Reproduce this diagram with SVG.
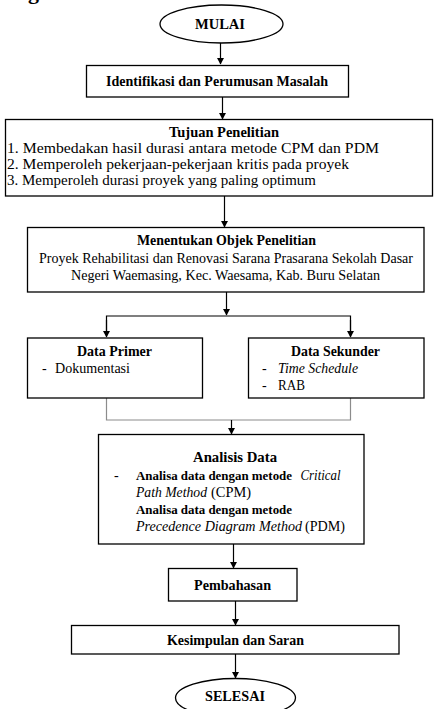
<svg xmlns="http://www.w3.org/2000/svg" width="435" height="709" viewBox="0 0 435 709">
<defs>
<marker id="ah" markerWidth="7" markerHeight="8" refX="6" refY="4" orient="auto" markerUnits="userSpaceOnUse">
<path d="M0,0.5 L6.5,4 L0,7.5 Z" fill="#000"/>
</marker>
<style>
.box{fill:#fff;stroke:#000;stroke-width:1.3}
.t{font-family:"Liberation Serif","Times New Roman",serif;font-size:14px;fill:#000}
.b{font-weight:bold}
.i{font-style:italic}
.m{text-anchor:middle}
.s{font-size:13px}
.c{fill:none;stroke:#000;stroke-width:1.2}
.g{fill:none;stroke:#8c8c8c;stroke-width:1.2}
</style>
</defs>
<rect width="435" height="709" fill="#fff"/>
<text class="t b" x="28" y="-1" style="font-size:22px">g</text>

<g id="connectors">
<line class="c" x1="220.5" y1="43" x2="220.5" y2="64" marker-end="url(#ah)"/>
<line class="c" x1="222.5" y1="97" x2="222.5" y2="119" marker-end="url(#ah)"/>
<line class="c" x1="224.5" y1="196" x2="224.5" y2="227" marker-end="url(#ah)"/>
<line class="c" x1="226.5" y1="292" x2="226.5" y2="315" marker-end="url(#ah)"/>
<polyline class="c" points="106.5,336 106.5,316 350.5,316 350.5,336"/>
<line class="c" x1="106.5" y1="320" x2="106.5" y2="337" marker-end="url(#ah)"/>
<line class="c" x1="350.5" y1="320" x2="350.5" y2="337" marker-end="url(#ah)"/>
<polyline class="g" points="106.5,398 106.5,420 350.5,420 350.5,398"/>
<line class="c" x1="231.5" y1="420" x2="231.5" y2="434" marker-end="url(#ah)"/>
<line class="c" x1="233.5" y1="544" x2="233.5" y2="568" marker-end="url(#ah)"/>
<line class="c" x1="235.5" y1="601" x2="235.5" y2="625" marker-end="url(#ah)"/>
<line class="c" x1="235.5" y1="654" x2="235.5" y2="678" marker-end="url(#ah)"/>
</g>

<g id="mulai">
<ellipse class="box" cx="221.5" cy="24" rx="61.5" ry="19"/>
<text class="t b m" x="220" y="29" textLength="50" lengthAdjust="spacingAndGlyphs">MULAI</text>
</g>

<g id="identifikasi">
<rect class="box" x="86.5" y="65.5" width="262" height="31.5"/>
<text class="t b m" x="217" y="86" textLength="222" lengthAdjust="spacingAndGlyphs">Identifikasi dan Perumusan Masalah</text>
</g>

<g id="tujuan">
<rect class="box" x="5.5" y="119.5" width="427" height="76.5"/>
<text class="t b m" x="224" y="137" textLength="110" lengthAdjust="spacingAndGlyphs">Tujuan Penelitian</text>
<text class="t" x="7" y="153" textLength="372" lengthAdjust="spacingAndGlyphs">1. Membedakan hasil durasi antara metode CPM dan PDM</text>
<text class="t" x="7" y="169" textLength="342" lengthAdjust="spacingAndGlyphs">2. Memperoleh pekerjaan-pekerjaan kritis pada proyek</text>
<text class="t" x="7" y="185" textLength="309" lengthAdjust="spacingAndGlyphs">3. Memperoleh durasi proyek yang paling optimum</text>
</g>

<g id="objek">
<rect class="box" x="27.5" y="227.5" width="396.5" height="64.5"/>
<text class="t b m" x="226.5" y="245" textLength="179" lengthAdjust="spacingAndGlyphs">Menentukan Objek Penelitian</text>
<text class="t" x="39" y="263" textLength="374" lengthAdjust="spacingAndGlyphs">Proyek Rehabilitasi dan Renovasi Sarana Prasarana Sekolah Dasar</text>
<text class="t" x="71" y="280" textLength="309" lengthAdjust="spacingAndGlyphs">Negeri Waemasing, Kec. Waesama, Kab. Buru Selatan</text>
</g>

<g id="primer">
<rect class="box" x="27.5" y="338" width="175" height="60"/>
<text class="t b m" x="114.5" y="356" textLength="75" lengthAdjust="spacingAndGlyphs">Data Primer</text>
<text class="t" x="42" y="373">-</text>
<text class="t" x="55" y="373" textLength="75" lengthAdjust="spacingAndGlyphs">Dokumentasi</text>
</g>

<g id="sekunder">
<rect class="box" x="248.5" y="338" width="175.5" height="60"/>
<text class="t b m" x="335.5" y="356" textLength="89" lengthAdjust="spacingAndGlyphs">Data Sekunder</text>
<text class="t" x="262" y="373">-</text>
<text class="t i" x="278" y="373" textLength="80" lengthAdjust="spacingAndGlyphs">Time Schedule</text>
<text class="t" x="262" y="390">-</text>
<text class="t" x="278" y="390" textLength="27" lengthAdjust="spacingAndGlyphs">RAB</text>
</g>

<g id="analisis">
<rect class="box" x="98.5" y="434.5" width="265.5" height="109.5"/>
<text class="t b m" x="235" y="462" textLength="84" lengthAdjust="spacingAndGlyphs">Analisis Data</text>
<text class="t" x="114" y="480">-</text>
<text class="t b s" x="136" y="480" textLength="156" lengthAdjust="spacingAndGlyphs">Analisa data dengan metode</text>
<text class="t i" x="300.5" y="480" textLength="40" lengthAdjust="spacingAndGlyphs">Critical</text>
<text class="t i" x="136" y="497" textLength="71" lengthAdjust="spacingAndGlyphs">Path Method</text>
<text class="t" x="211" y="497" textLength="40" lengthAdjust="spacingAndGlyphs">(CPM)</text>
<text class="t b s" x="136" y="514" textLength="156" lengthAdjust="spacingAndGlyphs">Analisa data dengan metode</text>
<text class="t i" x="136" y="531" textLength="166" lengthAdjust="spacingAndGlyphs">Precedence Diagram Method</text>
<text class="t" x="305" y="531" textLength="40" lengthAdjust="spacingAndGlyphs">(PDM)</text>
</g>

<g id="pembahasan">
<rect class="box" x="168.5" y="568.5" width="128.5" height="32.5"/>
<text class="t b m" x="232.5" y="590" textLength="77" lengthAdjust="spacingAndGlyphs">Pembahasan</text>
</g>

<g id="kesimpulan">
<rect class="box" x="71.5" y="625.5" width="327.5" height="28.5"/>
<text class="t b m" x="235.5" y="645" textLength="137" lengthAdjust="spacingAndGlyphs">Kesimpulan dan Saran</text>
</g>

<g id="selesai">
<ellipse class="box" cx="235.5" cy="698" rx="60" ry="19.5"/>
<text class="t b m" x="235" y="701" textLength="60" lengthAdjust="spacingAndGlyphs">SELESAI</text>
</g>
</svg>
